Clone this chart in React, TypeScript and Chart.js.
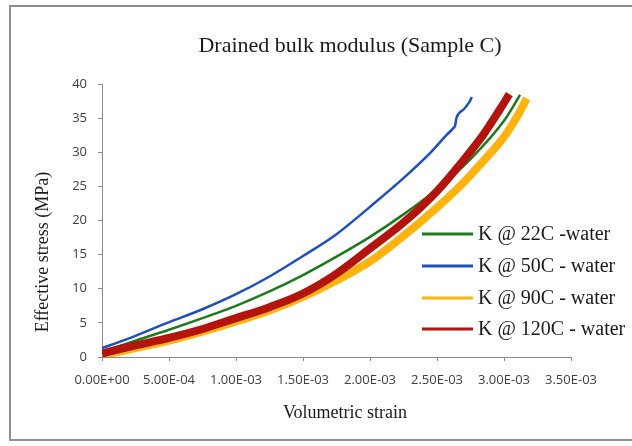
import React, { useEffect, useRef } from "react";
import { Chart, registerables } from "chart.js";

Chart.register(...registerables);

const titleText = "Drained bulk modulus (Sample C)";
const xTitle = "Volumetric strain";
const yTitle = "Effective stress (MPa)";

const seriesLabels = ["K @ 22C -water", "K @ 50C - water", "K @ 90C - water", "K @ 120C - water"];
const seriesColors = ["#1d7a1d", "#1f4fbf", "#ffb30f", "#b3140c"];

const strain22 = [0, 0.25e-3, 0.5e-3, 0.75e-3, 1.0e-3, 1.25e-3, 1.5e-3, 1.75e-3, 2.0e-3, 2.25e-3, 2.5e-3, 2.75e-3, 3.0e-3, 3.12e-3];
const stress22 = [0.8, 2.4, 4.0, 5.7, 7.5, 9.6, 12.0, 14.7, 17.6, 20.9, 24.6, 29.0, 34.6, 38.4];

const strain50 = [0, 0.1e-3, 0.25e-3, 0.5e-3, 0.75e-3, 1.0e-3, 1.25e-3, 1.5e-3, 1.75e-3, 2.0e-3, 2.25e-3, 2.45e-3, 2.57e-3, 2.62e-3, 2.635e-3, 2.645e-3, 2.66e-3, 2.7e-3, 2.74e-3, 2.76e-3];
const stress50 = [1.3, 2.0, 3.1, 5.1, 7.0, 9.2, 11.8, 14.8, 18.0, 22.0, 26.2, 29.9, 32.5, 33.5, 33.9, 35.0, 35.6, 36.3, 37.3, 38.1];

const strain90 = [0, 0.25e-3, 0.5e-3, 0.75e-3, 1.0e-3, 1.25e-3, 1.5e-3, 1.75e-3, 2.0e-3, 2.26e-3, 2.5e-3, 2.68e-3, 2.85e-3, 3.01e-3, 3.1e-3, 3.17e-3];
const stress90 = [0.2, 1.3, 2.4, 3.7, 5.2, 6.8, 8.8, 11.2, 14.0, 17.9, 21.9, 25.2, 28.8, 32.5, 35.3, 37.9];

const strain120 = [0, 0.1e-3, 0.25e-3, 0.5e-3, 0.75e-3, 1.0e-3, 1.25e-3, 1.5e-3, 1.75e-3, 2.0e-3, 2.25e-3, 2.5e-3, 2.7e-3, 2.85e-3, 2.97e-3, 3.04e-3];
const stress120 = [0.5, 1.0, 1.7, 2.8, 4.1, 5.7, 7.3, 9.3, 12.2, 15.9, 19.7, 24.3, 28.9, 32.7, 36.3, 38.5];

const xTicks = [0, 0.5e-3, 1.0e-3, 1.5e-3, 2.0e-3, 2.5e-3, 3.0e-3, 3.5e-3];
const yTicks = [0, 5, 10, 15, 20, 25, 30, 35, 40];

function fmtExp(v: number): string {
  if (Math.abs(v) < 1e-12) return "0.00E+00";
  const s = v.toExponential(2);
  const [m, e] = s.split("e");
  const n = parseInt(e, 10);
  const sign = n < 0 ? "-" : "+";
  const a = Math.abs(n);
  return m + "E" + sign + (a < 10 ? "0" + a : String(a));
}

function pts(xs: number[], ys: number[]) {
  return xs.map((x, i) => ({ x, y: ys[i] }));
}

const serif = "'Liberation Serif', 'Times New Roman', serif";
const sans = "'Open Sans', 'Noto Sans', sans-serif";

const textPlugin = {
  id: "textPlugin",
  afterDraw(chart: any) {
    const ctx = chart.ctx;
    ctx.save();
    ctx.fillStyle = "#1a1a1a";
    ctx.textAlign = "center";
    ctx.textBaseline = "middle";
    ctx.font = "22px " + serif;
    ctx.fillText(titleText, 350, 46);
    ctx.font = "18px " + serif;
    ctx.fillText(xTitle, 345, 413);
    ctx.save();
    ctx.translate(43, 252);
    ctx.rotate(-Math.PI / 2);
    ctx.fillText(yTitle, 0, 0);
    ctx.restore();
    // legend
    const rows = [234, 266, 298, 329];
    ctx.font = "20px " + serif;
    ctx.textAlign = "left";
    for (let i = 0; i < seriesLabels.length; i++) {
      const y = rows[i];
      ctx.strokeStyle = seriesColors[i];
      ctx.lineWidth = 3;
      ctx.beginPath();
      ctx.moveTo(422, y);
      ctx.lineTo(473, y);
      ctx.stroke();
      ctx.fillStyle = "#1a1a1a";
      ctx.fillText(seriesLabels[i], 478, y + 1);
    }
    ctx.restore();
  },
};

export default function App() {
  const ref = useRef<HTMLCanvasElement | null>(null);
  useEffect(() => {
    if (!ref.current) return;
    const chart = new Chart(ref.current, {
      type: "line",
      data: {
        datasets: [
          {
            label: seriesLabels[0],
            data: pts(strain22, stress22),
            borderColor: seriesColors[0],
            borderWidth: 2.5,
            pointRadius: 0,
            cubicInterpolationMode: "monotone",
            order: 4,
          },
          {
            label: seriesLabels[1],
            data: pts(strain50, stress50),
            borderColor: seriesColors[1],
            borderWidth: 2.5,
            pointRadius: 0,
            cubicInterpolationMode: "monotone",
            order: 1,
          },
          {
            label: seriesLabels[2],
            data: pts(strain90, stress90),
            borderColor: seriesColors[2],
            borderWidth: 8,
            pointRadius: 0,
            cubicInterpolationMode: "monotone",
            order: 3,
          },
          {
            label: seriesLabels[3],
            data: pts(strain120, stress120),
            borderColor: seriesColors[3],
            borderWidth: 8,
            pointRadius: 0,
            cubicInterpolationMode: "monotone",
            order: 2,
          },
        ],
      } as any,
      options: {
        animation: false,
        responsive: true,
        maintainAspectRatio: false,
        layout: { padding: { left: 0, top: 84, right: 61, bottom: 59 } },
        plugins: { legend: { display: false }, title: { display: false }, tooltip: { enabled: false } },
        scales: {
          x: {
            type: "linear",
            min: 0,
            max: 3.5e-3,
            afterFit: (s: any) => {
              s.height = 30;
            },
            afterBuildTicks: (s: any) => {
              s.ticks = xTicks.map((v) => ({ value: v }));
            },
            border: { color: "#8c8c8c", width: 1 },
            grid: { drawOnChartArea: false, tickLength: 4, color: "#8c8c8c" },
            ticks: {
              padding: 11,
              color: "#404040",
              font: { family: sans, size: 13 },
              maxRotation: 0,
              autoSkip: false,
              callback: (v: any) => fmtExp(Number(v)),
            },
          },
          y: {
            type: "linear",
            min: 0,
            max: 40,
            afterFit: (s: any) => {
              s.width = 102;
            },
            afterBuildTicks: (s: any) => {
              s.ticks = yTicks.map((v) => ({ value: v }));
            },
            border: { color: "#8c8c8c", width: 1 },
            grid: { drawOnChartArea: false, tickLength: 4, color: "#8c8c8c" },
            ticks: {
              padding: 11,
              color: "#404040",
              font: { family: sans, size: 13 },
              autoSkip: false,
              callback: (v: any) => String(v),
            },
          },
        },
      },
      plugins: [textPlugin],
    });
    return () => chart.destroy();
  }, []);
  return (
    <div style={{ position: "fixed", left: 0, top: 0, width: 632, height: 446, background: "#fff" }}>
      <div
        style={{
          position: "absolute",
          left: 9,
          top: 5,
          width: 640,
          height: 436,
          border: "2px solid #8f8f8f",
          boxSizing: "border-box",
        }}
      />
      <canvas ref={ref} style={{ position: "absolute", left: 0, top: 0, width: 632, height: 446 }} />
    </div>
  );
}
